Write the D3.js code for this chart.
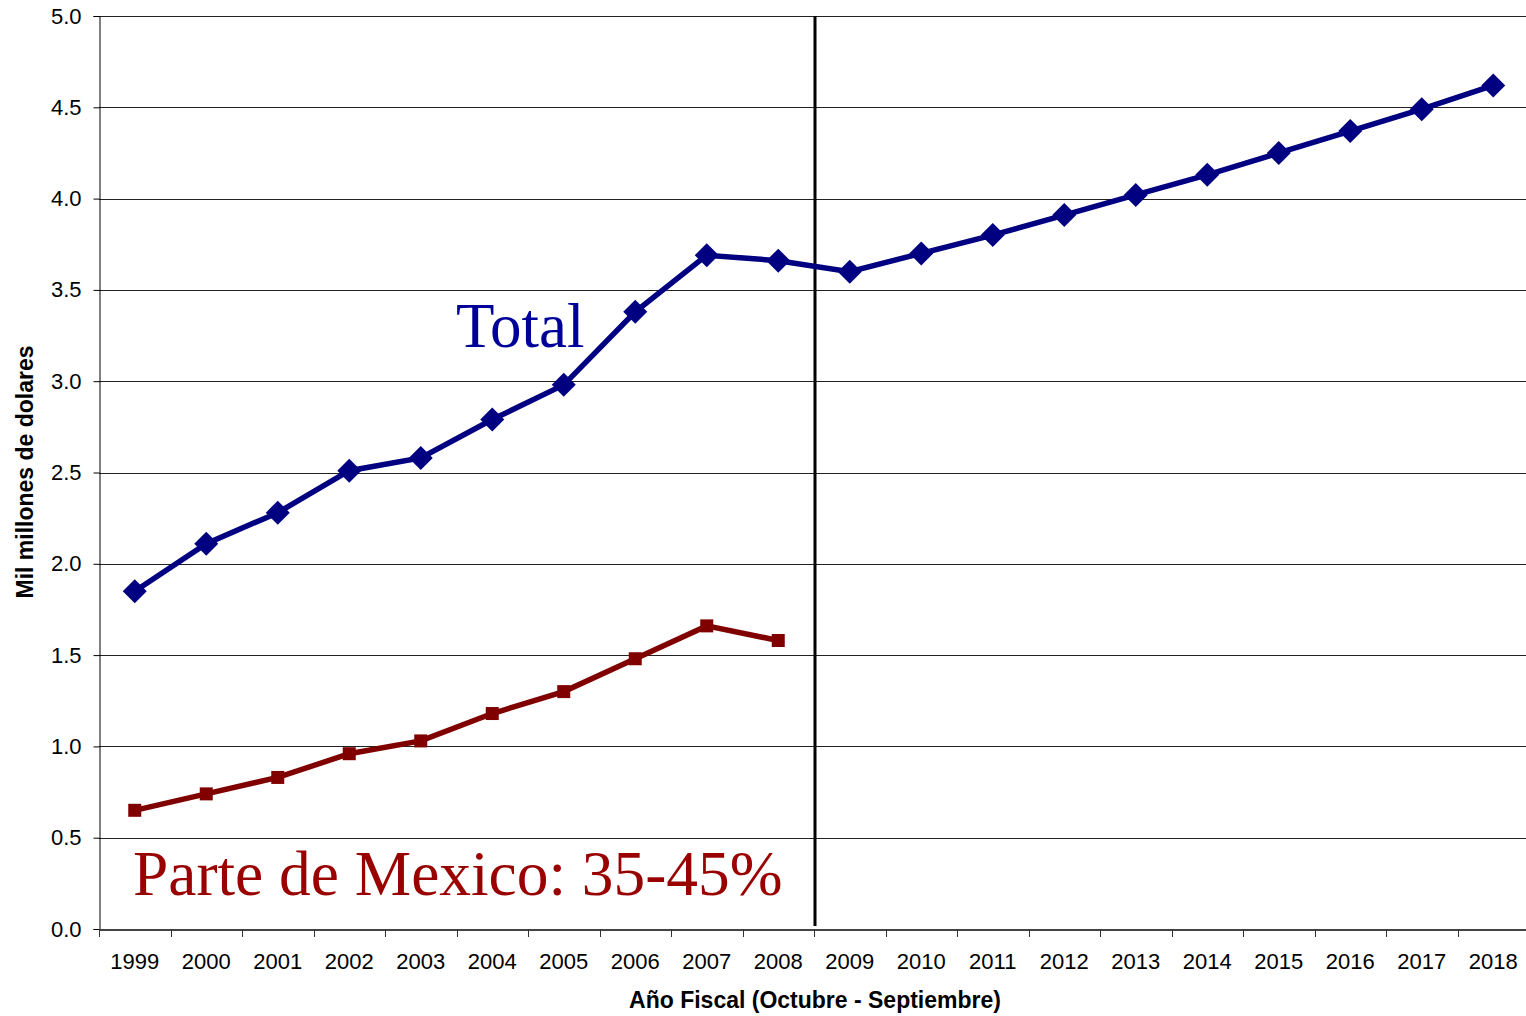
<!DOCTYPE html>
<html>
<head>
<meta charset="utf-8">
<script src="https://cdn.jsdelivr.net/npm/d3@7"></script>
<style>
  body { margin: 0; background: #fff; }
  svg { display: block; }
  .tick text { font-family: "Liberation Sans", Arial, sans-serif; font-size: 22px; fill: #000; }
</style>
</head>
<body>
<div id="chart"></div>
<script>
var years = ["1999", "2000", "2001", "2002", "2003", "2004", "2005", "2006", "2007", "2008",
             "2009", "2010", "2011", "2012", "2013", "2014", "2015", "2016", "2017", "2018"];
var totalValues = [1.85, 2.11, 2.28, 2.51, 2.58, 2.79, 2.98, 3.38, 3.69, 3.66,
                   3.60, 3.70, 3.80, 3.91, 4.02, 4.13, 4.25, 4.37, 4.49, 4.62];
var mexicoValues = [0.65, 0.74, 0.83, 0.96, 1.03, 1.18, 1.30, 1.48, 1.66, 1.58];
var yTicks = [0, 0.5, 1, 1.5, 2, 2.5, 3, 3.5, 4, 4.5, 5];

var width = 1526,
    height = 1016,
    margin = { top: 16, right: 0, bottom: 87, left: 99 };

var svg = d3.select("#chart").append("svg")
    .attr("width", width)
    .attr("height", height);

var x = d3.scaleBand()
    .domain(years)
    .range([margin.left, width - margin.right + 3]);

var y = d3.scaleLinear()
    .domain([0, 5])
    .range([height - margin.bottom, margin.top]);

// gridlines
svg.append("g")
    .selectAll("line")
    .data(yTicks.filter(function (d) { return d > 0; }))
  .enter().append("line")
    .attr("x1", margin.left)
    .attr("x2", width)
    .attr("y1", function (d) { return Math.round(y(d)) + 0.5; })
    .attr("y2", function (d) { return Math.round(y(d)) + 0.5; })
    .attr("stroke", "#222")
    .attr("stroke-width", 1);

// y axis
var yAxis = svg.append("g")
    .attr("transform", "translate(" + (margin.left + 0.5) + ",0)")
    .call(d3.axisLeft(y).tickValues(yTicks).tickFormat(d3.format(".1f")).tickSize(6).tickPadding(12));
yAxis.select(".domain").attr("stroke", "#000");
yAxis.selectAll(".tick line").attr("stroke", "#000");

// x axis, ticks at band boundaries
var xAxis = svg.append("g")
    .attr("transform", "translate(0," + (Math.round(y(0)) + 0.5) + ")")
    .call(d3.axisBottom(x).tickSize(0).tickPadding(24));
xAxis.select(".domain").attr("stroke", "#444").attr("stroke-width", 2);
xAxis.selectAll(".tick text").attr("dy", "0.71em");

svg.append("g")
    .selectAll("line")
    .data(years)
  .enter().append("line")
    .attr("x1", function (d) { return Math.round(x(d)) + 0.5; })
    .attr("x2", function (d) { return Math.round(x(d)) + 0.5; })
    .attr("y1", y(0))
    .attr("y2", y(0) + 8)
    .attr("stroke", "#333");

// divider between actual and projected years
var splitX = x("2009");
svg.append("line")
    .attr("x1", splitX + 1)
    .attr("x2", splitX + 1)
    .attr("y1", margin.top)
    .attr("y2", y(0) - 3)
    .attr("stroke", "#000")
    .attr("stroke-width", 3);

var line = d3.line()
    .x(function (d, i) { return x(years[i]) + x.bandwidth() / 2; })
    .y(function (d) { return y(d); });

// mexico series
svg.append("path")
    .datum(mexicoValues)
    .attr("fill", "none")
    .attr("stroke", "#800000")
    .attr("stroke-width", 5.5)
    .attr("d", line);

svg.append("g")
    .selectAll("rect")
    .data(mexicoValues)
  .enter().append("rect")
    .attr("x", function (d, i) { return x(years[i]) + x.bandwidth() / 2 - 6.5; })
    .attr("y", function (d) { return y(d) - 6.5; })
    .attr("width", 13)
    .attr("height", 13)
    .attr("fill", "#800000");

// total series
svg.append("path")
    .datum(totalValues)
    .attr("fill", "none")
    .attr("stroke", "#000080")
    .attr("stroke-width", 5.5)
    .attr("d", line);

svg.append("g")
    .selectAll("path")
    .data(totalValues)
  .enter().append("path")
    .attr("transform", function (d, i) { return "translate(" + (x(years[i]) + x.bandwidth() / 2) + "," + y(d) + ")"; })
    .attr("d", "M0,-12L12,0L0,12L-12,0Z")
    .attr("fill", "#000080");

// annotations
svg.append("text")
    .attr("x", 456)
    .attr("y", 347)
    .attr("font-family", "'Liberation Serif', 'Times New Roman', serif")
    .attr("font-size", 63)
    .attr("fill", "#000099")
    .text("Total");

svg.append("text")
    .attr("x", 133)
    .attr("y", 895)
    .attr("font-family", "'Liberation Serif', 'Times New Roman', serif")
    .attr("font-size", 63.4)
    .attr("fill", "#990000")
    .text("Parte de Mexico: 35-45%");

// axis titles
svg.append("text")
    .attr("transform", "translate(33," + 472 + ")rotate(-90)")
    .attr("text-anchor", "middle")
    .attr("font-family", "'Liberation Sans', Arial, sans-serif")
    .attr("font-weight", "bold")
    .attr("font-size", 23)
    .text("Mil millones de dolares");

svg.append("text")
    .attr("x", 815)
    .attr("y", 1008)
    .attr("text-anchor", "middle")
    .attr("font-family", "'Liberation Sans', Arial, sans-serif")
    .attr("font-weight", "bold")
    .attr("font-size", 23)
    .text("Año Fiscal (Octubre - Septiembre)");
</script>
</body>
</html>
